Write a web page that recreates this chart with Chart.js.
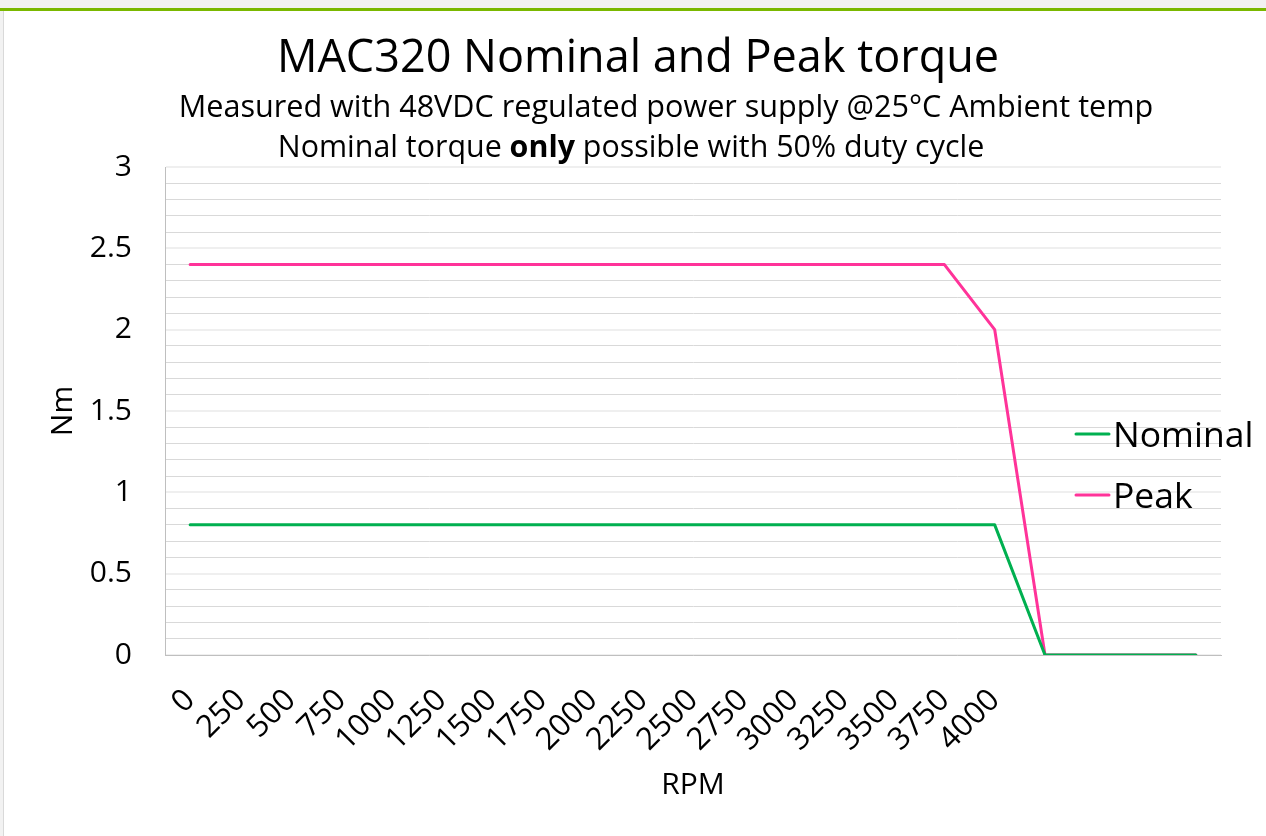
<!DOCTYPE html>
<html>
<head>
<meta charset="utf-8">
<script src="https://cdn.jsdelivr.net/npm/chart.js@4.4.0/dist/chart.umd.min.js"></script>
<style>
  html, body { margin: 0; padding: 0; background: #ffffff; }
  #wrap { width: 1266px; height: 836px; position: relative; }
  canvas { display: block; }
</style>
</head>
<body>
<div id="wrap"><canvas id="c" width="1266" height="836"></canvas></div>
<script>
// ---- data ----
const rpmLabels = ['0','250','500','750','1000','1250','1500','1750','2000','2250','2500','2750','3000','3250','3500','3750','4000','','','',''];
const nominalTorque = [0.8,0.8,0.8,0.8,0.8,0.8,0.8,0.8,0.8,0.8,0.8,0.8,0.8,0.8,0.8,0.8,0.8,0,0,0,0];
const peakTorque    = [2.4,2.4,2.4,2.4,2.4,2.4,2.4,2.4,2.4,2.4,2.4,2.4,2.4,2.4,2.4,2.4,2.0,0,0,0,0];
const seriesNames = ['Nominal','Peak'];
const titleText = 'MAC320 Nominal and Peak torque';
const subtitle1 = 'Measured with 48VDC regulated power supply @25°C Ambient temp';
const subtitle2 = [['Nominal torque ', false], ['only', true], [' possible with 50% duty cycle', false]];
const yTitle = 'Nm';
const xTitle = 'RPM';

const FONT = "'Open Sans', 'Noto Sans', sans-serif";
const GREEN = '#00b050';
const PINK = '#ff3399';

const decorPlugin = {
  id: 'decor',
  beforeDraw(chart) {
    const ctx = chart.ctx;
    ctx.save();
    ctx.fillStyle = '#ffffff';
    ctx.fillRect(0, 0, chart.width, chart.height);
    ctx.fillStyle = '#f2f2f2';
    ctx.fillRect(0, 0, chart.width, 8);
    ctx.fillRect(0, 0, 3, chart.height);
    ctx.fillStyle = '#d9d9d9';
    ctx.fillRect(3, 11, 1, chart.height - 11);
    ctx.fillStyle = '#7ab800';
    ctx.fillRect(0, 8, chart.width, 3);
    ctx.restore();
  },
  afterDraw(chart) {
    const ctx = chart.ctx;
    ctx.save();
    ctx.fillStyle = '#000000';
    ctx.textBaseline = 'alphabetic';
    ctx.textAlign = 'center';
    // main title
    ctx.font = '45px ' + FONT;
    ctx.fillText(titleText, 638, 72);
    // subtitle line 1
    ctx.font = '30.6px ' + FONT;
    ctx.fillText(subtitle1, 666, 117);
    // subtitle line 2 with bold segment
    ctx.textAlign = 'left';
    let total = 0;
    subtitle2.forEach(([t, b]) => {
      ctx.font = (b ? 'bold ' : '') + '30.4px ' + FONT;
      total += ctx.measureText(t).width;
    });
    let x = 631 - total / 2;
    subtitle2.forEach(([t, b]) => {
      ctx.font = (b ? 'bold ' : '') + '30.4px ' + FONT;
      ctx.fillText(t, x, 157);
      x += ctx.measureText(t).width;
    });
    // legend
    ctx.font = '35.5px ' + FONT;
    chart.data.datasets.forEach((ds, i) => {
      const ly = 434 + i * 61;
      ctx.strokeStyle = ds.borderColor;
      ctx.lineWidth = 3;
      ctx.lineCap = 'round';
      ctx.beginPath();
      ctx.moveTo(1076, ly);
      ctx.lineTo(1109, ly);
      ctx.stroke();
      ctx.fillStyle = '#000000';
      ctx.fillText(ds.label, 1113, ly + 13);
    });
    ctx.restore();
  }
};

new Chart(document.getElementById('c'), {
  type: 'line',
  data: {
    labels: rpmLabels,
    datasets: [
      { label: seriesNames[0], data: nominalTorque, borderColor: GREEN, backgroundColor: GREEN,
        borderWidth: 3, pointRadius: 0, tension: 0, borderCapStyle: 'round', borderJoinStyle: 'round' },
      { label: seriesNames[1], data: peakTorque, borderColor: PINK, backgroundColor: PINK,
        borderWidth: 3, pointRadius: 0, tension: 0, borderCapStyle: 'round', borderJoinStyle: 'round' }
    ]
  },
  options: {
    responsive: false,
    animation: false,
    devicePixelRatio: 1,
    layout: { padding: { top: 167, left: 0, right: 45, bottom: 0 } },
    plugins: {
      legend: { display: false },
      title: { display: false },
      tooltip: { enabled: false }
    },
    scales: {
      x: {
        type: 'category',
        offset: true,
        grid: { display: false, drawTicks: false },
        border: { display: true, color: '#bfbfbf', width: 1 },
        ticks: {
          autoSkip: false, maxRotation: 45, minRotation: 45, padding: 27,
          color: '#000000', font: { family: FONT, size: 31 }
        },
        title: { display: true, text: xTitle, color: '#000000', font: { family: FONT, size: 30 }, padding: { top: 0, bottom: 33 } },
        afterFit(scale) { scale.height = 836 - 655; }
      },
      y: {
        min: 0, max: 3,
        grid: {
          drawTicks: false,
          color(ctx) {
            const v = Math.round(ctx.tick.value * 10);
            return v % 5 === 0 ? '#efefef' : '#d9d9d9';
          },
          lineWidth(ctx) {
            const v = Math.round(ctx.tick.value * 10);
            return v % 5 === 0 ? 2 : 1;
          }
        },
        border: { display: true, color: '#bfbfbf', width: 1 },
        ticks: {
          stepSize: 0.1, autoSkip: false, padding: 33, color: '#000000',
          font: { family: FONT, size: 30 },
          callback(value) {
            const v = Math.round(value * 10);
            return v % 5 === 0 ? String(v / 10) : '';
          }
        },
        title: { display: true, text: yTitle, color: '#000000', font: { family: FONT, size: 30 }, padding: { top: 45, bottom: 0 } },
        afterFit(scale) { scale.width = 165; }
      }
    }
  },
  plugins: [decorPlugin]
});
</script>
</body>
</html>
